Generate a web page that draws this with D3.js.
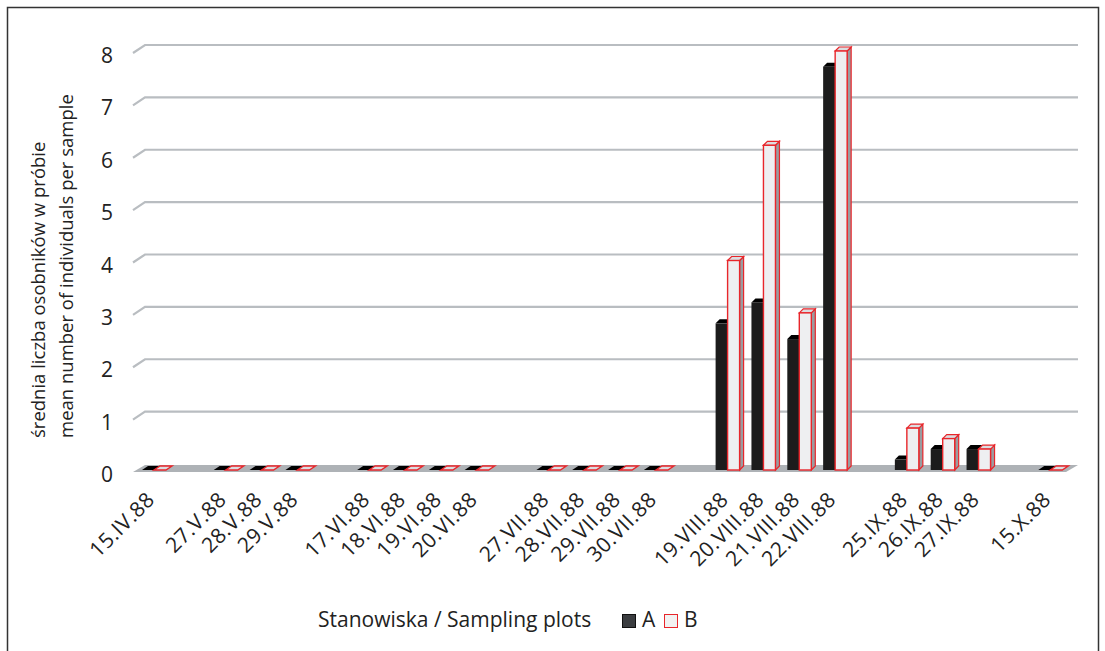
<!DOCTYPE html>
<html lang="pl">
<head>
<meta charset="UTF-8">
<title>Średnia liczba osobników w próbie</title>
<style>
  body { margin: 0; background: #fff; }
  text { font-family: "Open Sans", "Noto Sans", sans-serif; fill: #222; }
</style>
</head>
<body>
<svg id="chart" width="1105" height="651"></svg>
<script src="https://cdnjs.cloudflare.com/ajax/libs/d3/7.8.5/d3.min.js"></script>
<script>
// categories (blank entries are the gaps between sampling series)
var dates = ["15.IV.88", "", "27.V.88", "28.V.88", "29.V.88", "",
  "17.VI.88", "18.VI.88", "19.VI.88", "20.VI.88", "",
  "27.VII.88", "28.VII.88", "29.VII.88", "30.VII.88", "",
  "19.VIII.88", "20.VIII.88", "21.VIII.88", "22.VIII.88", "",
  "25.IX.88", "26.IX.88", "27.IX.88", "", "15.X.88"];

// series values, null = no sample
var seriesA = [0, null, 0, 0, 0, null, 0, 0, 0, 0, null, 0, 0, 0, 0, null,
  2.8, 3.2, 2.5, 7.7, null, 0.2, 0.4, 0.4, null, 0];
var seriesB = [0, null, 0, 0, 0, null, 0, 0, 0, 0, null, 0, 0, 0, 0, null,
  4.0, 6.2, 3.0, 8.0, null, 0.8, 0.6, 0.4, null, 0];

var yTicks = [0, 1, 2, 3, 4, 5, 6, 7, 8];

var svg = d3.select("#chart");

// frame
svg.append("rect")
  .attr("x", 7.5).attr("y", 7.5)
  .attr("width", 1091).attr("height", 660)
  .attr("fill", "none").attr("stroke", "#333").attr("stroke-width", 1.5);

// perspective offset of the back wall
var depthX = 12, depthY = -8;

var x = d3.scaleBand()
  .domain(dates.map(function(d, i) { return i; }))
  .range([133, 133 + 26 * 35.85])
  .padding(0);

var y = d3.scaleLinear().domain([0, 8]).range([472, 53]);

// gridlines with slanted left end
var grid = svg.append("g");
yTicks.forEach(function(t) {
  if (t == 0) return;
  grid.append("path")
    .attr("d", "M133," + y(t) + "L" + (133 + depthX) + "," + (y(t) + depthY) +
      "L1078," + (y(t) + depthY))
    .attr("fill", "none").attr("stroke", "#b9bdc1").attr("stroke-width", 2.2);
});

// floor
svg.append("path")
  .attr("d", "M133," + y(0) + "L" + (133 + depthX) + "," + (y(0) + depthY + 1) +
    "L1078," + (y(0) + depthY + 1) + "L" + (1078 - depthX) + "," + y(0) + "Z")
  .attr("fill", "#aeb2b6");

// y tick labels
svg.append("g").selectAll("text")
  .data(yTicks).join("text")
  .attr("x", 113).attr("y", function(d) { return y(d) + 2; })
  .attr("text-anchor", "end").attr("dominant-baseline", "central")
  .style("font-size", "21px")
  .text(function(d) { return d; });

// y axis title
var yTitle = svg.append("text")
  .attr("transform", "translate(45,438) rotate(-90)")
  .attr("text-anchor", "start")
  .style("font-size", "18.5px");
yTitle.append("tspan").attr("x", 0).attr("y", 0).text("średnia liczba osobników w próbie");
yTitle.append("tspan").attr("x", 0).attr("y", 28).text("mean number of individuals per sample");

// bars
var barW = 12, bd = 4, lift = 2;

function drawBar(g, x0, v, front, side, top, stroke) {
  var b = y(0) - lift, t = y(v) - lift;
  if (v <= 0) {
    // flat slab on the floor
    g.append("path")
      .attr("d", "M" + x0 + "," + b + "L" + (x0 + bd + 2) + "," + (b - bd) +
        "L" + (x0 + barW + bd + 2) + "," + (b - bd) + "L" + (x0 + barW) + "," + b + "Z")
      .attr("fill", top).attr("stroke", stroke).attr("stroke-width", stroke == "none" ? 0 : 1.4);
    return;
  }
  g.append("path")
    .attr("d", "M" + (x0 + barW) + "," + b + "L" + (x0 + barW + bd) + "," + (b - bd) +
      "L" + (x0 + barW + bd) + "," + (t - bd) + "L" + (x0 + barW) + "," + t + "Z")
    .attr("fill", side).attr("stroke", stroke).attr("stroke-width", 1.2);
  g.append("path")
    .attr("d", "M" + x0 + "," + t + "L" + (x0 + bd) + "," + (t - bd) +
      "L" + (x0 + barW + bd) + "," + (t - bd) + "L" + (x0 + barW) + "," + t + "Z")
    .attr("fill", top).attr("stroke", stroke).attr("stroke-width", 1.2);
  g.append("rect")
    .attr("x", x0).attr("y", t).attr("width", barW).attr("height", b - t)
    .attr("fill", front).attr("stroke", stroke).attr("stroke-width", 1.4);
}

var bars = svg.append("g");
dates.forEach(function(d, i) {
  if (seriesA[i] == null) return;
  var x0 = x(i) + 9;
  drawBar(bars, x0, seriesA[i], "#1c1c1c", "#0a0a0a", "#000", "none");
  drawBar(bars, x0 + barW, seriesB[i], "#eeeff1", "#9a9ca0", "#dcdde0", "#e8262b");
});

// x labels
svg.append("g").selectAll("text")
  .data(dates.map(function(d, i) { return { d: d, i: i }; }).filter(function(o) { return o.d != ""; }))
  .join("text")
  .attr("transform", function(o) {
    return "translate(" + (x(o.i) + x.bandwidth() / 2 + 5) + ",501) rotate(-45)";
  })
  .attr("text-anchor", "end")
  .style("font-size", "21px")
  .style("letter-spacing", "0.5px")
  .text(function(o) { return o.d; });

// legend
var legend = svg.append("g");
legend.append("text").attr("x", 318).attr("y", 627).style("font-size", "21px")
  .text("Stanowiska / Sampling plots");
legend.append("rect").attr("x", 622.5).attr("y", 614.5).attr("width", 13).attr("height", 13)
  .attr("fill", "#3b3d40").attr("stroke", "#111").attr("stroke-width", 1);
legend.append("text").attr("x", 642).attr("y", 627).style("font-size", "21px").text("A");
legend.append("rect").attr("x", 664.5).attr("y", 614.5).attr("width", 13).attr("height", 13)
  .attr("fill", "#f2f2f2").attr("stroke", "#e8262b").attr("stroke-width", 1);
legend.append("text").attr("x", 684).attr("y", 627).style("font-size", "21px").text("B");
</script>
</body>
</html>
